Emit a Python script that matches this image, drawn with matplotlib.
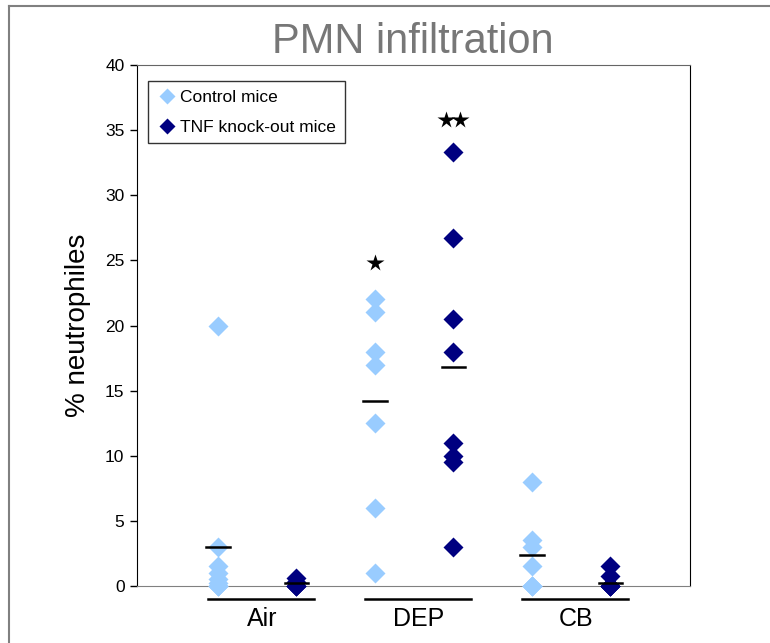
"""
    PMN infiltration scatter
    Dot plot of % neutrophiles per exposure group, control vs TNF knock-out
"""
import matplotlib
matplotlib.use('Agg')
import matplotlib.pyplot as plt
from matplotlib.lines import Line2D

plt.rcParams['font.family'] = ['Liberation Sans', 'DejaVu Sans']

groups = ['Air', 'DEP', 'CB']
control = [
    [20, 3, 1.5, 1, 0.5, 0.2, 0, 0, 0],
    [22, 21, 18, 17, 12.5, 6, 1],
    [8, 3.5, 3, 1.5, 0, 0, 0],
]
knockout = [
    [0.6, 0.3, 0, 0, 0],
    [33.3, 26.7, 20.5, 18, 11, 10, 9.5, 3],
    [1.5, 0.8, 0, 0, 0, 0],
]
control_means = [3.0, 14.2, 2.4]
knockout_means = [0.2, 16.8, 0.2]
# significance stars: (group index, series, height, count)
stars = [(1, 'control', 24.8, 1), (1, 'knockout', 35.8, 2)]

light = '#99CCFF'
dark = '#000080'
offset = 0.25

fig = plt.figure(figsize=(7.7, 6.43), dpi=100)
ax = fig.add_axes([137 / 770, 1 - 586 / 643, 553 / 770, 521 / 643])

for i, name in enumerate(groups):
    xc = i - offset
    xk = i + offset
    ax.plot([xc] * len(control[i]), control[i], 'D', color=light, ms=10.5,
            mec='none', clip_on=False, zorder=3,
            label='Control mice' if i == 0 else None)
    ax.plot([xk] * len(knockout[i]), knockout[i], 'D', color=dark, ms=10.5,
            mec='none', clip_on=False, zorder=3,
            label='TNF knock-out mice' if i == 0 else None)
    ax.plot([xc - 0.075, xc + 0.075], [control_means[i]] * 2, color='black',
            lw=1.8, zorder=4, clip_on=False)
    ax.plot([xk - 0.075, xk + 0.075], [knockout_means[i]] * 2, color='black',
            lw=1.8, zorder=4, clip_on=False)
    # group underline below the axis
    ax.plot([i - 0.31, i + 0.36], [-1.0, -1.0], color='black', lw=1.8,
            clip_on=False)

for gi, series, height, count in stars:
    x0 = gi - offset if series == 'control' else gi + offset
    xs = [x0 + 0.088 * (k - (count - 1) / 2) for k in range(count)]
    ax.plot(xs, [height] * count, '*', color='black', ms=13, mec='none',
            clip_on=False)

ax.set_xlim(-0.765, 2.757)
ax.set_ylim(0, 40)
ax.set_yticks(range(0, 41, 5))
ax.tick_params(axis='y', labelsize=12.5, length=5, width=1, direction='out',
               pad=4)
ax.set_xticks([i + 0.03 for i in range(len(groups))], groups, fontsize=18)
ax.tick_params(axis='x', length=0, pad=15)

for side in ['left', 'right']:
    ax.spines[side].set_color('black')
ax.spines['top'].set_color('#666666')
ax.spines['bottom'].set_color('#808080')

ax.set_ylabel('% neutrophiles', fontsize=20)
ax.yaxis.set_label_coords(-46 / 553, 0.5)

fig.text(413 / 770, 1 - 42 / 643, 'PMN infiltration', fontsize=30,
         color='#777777', ha='center', va='center')

leg = ax.legend(loc='upper left', bbox_to_anchor=(11 / 553, 1 - 16 / 521),
                fontsize=12.5, frameon=True, fancybox=False, borderpad=0.5,
                handletextpad=0.15, handlelength=1.2, borderaxespad=0,
                labelspacing=0.85, markerscale=0.75)
leg.get_frame().set_edgecolor('black')
leg.get_frame().set_linewidth(1)

# outer chart frame
fig.add_artist(Line2D([9 / 770, 9 / 770], [0, 1 - 6 / 643], color='#808080',
                      lw=1.5, transform=fig.transFigure))
fig.add_artist(Line2D([9 / 770, 1], [1 - 6 / 643, 1 - 6 / 643],
                      color='#808080', lw=1.5, transform=fig.transFigure))

fig.savefig('out.png', dpi=100)
